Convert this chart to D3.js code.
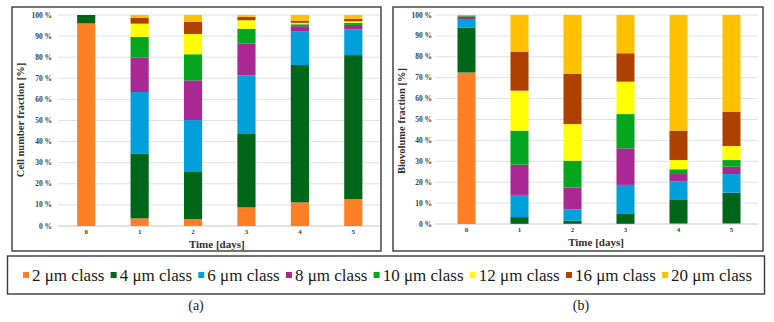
<!DOCTYPE html>
<html>
<head>
<meta charset="utf-8">
<script src="https://cdn.jsdelivr.net/npm/d3@7"></script>
<style>
  body { margin: 0; background: #fff; }
  svg { display: block; }
  text { font-family: "Liberation Serif", "DejaVu Serif", serif; }
</style>
</head>
<body>
<svg id="chart" width="774" height="322"></svg>
<script>
const days = ["0", "1", "2", "3", "4", "5"];
const classes = ["2 μm class", "4 μm class", "6 μm class", "8 μm class",
                 "10 μm class", "12 μm class", "16 μm class", "20 μm class"];
const colors = ["#FF7F27", "#00661A", "#00A0DA", "#AA2894",
                "#05A61F", "#FFFF00", "#AF4100", "#FFC000"];
const yTicks = [0, 10, 20, 30, 40, 50, 60, 70, 80, 90, 100];

// cell number fraction [%], one row per class, one value per day
const cellNumber = [
    [96.0, 3.6, 3.2, 8.8, 11.2, 12.8],
    [4.0, 30.8, 22.4, 34.8, 65.1, 68.2],
    [0, 29.1, 24.6, 27.8, 15.8, 12.2],
    [0, 16.4, 18.8, 15.0, 2.6, 2.1],
    [0, 9.7, 12.4, 7.1, 0.9, 1.0],
    [0, 6.3, 9.6, 4.0, 0.7, 0.7],
    [0, 2.7, 5.7, 1.6, 1.0, 1.2],
    [0, 1.4, 3.3, 0.9, 2.7, 1.8]
];

// biovolume fraction [%]
const biovolume = [
    [72.5, 0.1, 0.1, 0.1, 0.3, 0.4],
    [21.4, 3.2, 1.5, 5.0, 11.2, 14.6],
    [4.2, 10.6, 5.4, 13.6, 8.8, 8.9],
    [1.1, 14.5, 10.4, 17.5, 3.6, 3.5],
    [0.5, 16.3, 12.9, 16.4, 2.3, 3.2],
    [0.1, 19.1, 17.5, 15.5, 4.4, 6.7],
    [0.1, 18.7, 24.0, 13.6, 14.1, 16.3],
    [0.1, 17.5, 28.2, 18.3, 55.3, 46.4]
];

const svg = d3.select("#chart");

function toRows(matrix) {
    return days.map((day, i) => {
        const row = {day: day};
        classes.forEach((c, k) => row[c] = matrix[k][i]);
        return row;
    });
}

function drawPanel(cfg) {
    const g = svg.append("g");

    // frame
    g.append("rect")
        .attr("x", cfg.box[0]).attr("y", cfg.box[1])
        .attr("width", cfg.box[2] - cfg.box[0]).attr("height", cfg.box[3] - cfg.box[1])
        .attr("fill", "none").attr("stroke", "#3a3a3a").attr("stroke-width", 1.4);

    const x = d3.scaleBand().domain(days)
        .range([cfg.x0, cfg.x1])
        .paddingInner(0.66).paddingOuter(0.33);
    const y = d3.scaleLinear().domain([0, 100]).range([cfg.yBottom, cfg.yTop]);

    // gridlines
    g.selectAll(".grid").data(yTicks).enter().append("line")
        .attr("x1", cfg.gridX0).attr("x2", cfg.x1)
        .attr("y1", d => y(d)).attr("y2", d => y(d))
        .attr("stroke", d => d === 0 ? "#c8c8c8" : "#e0e0e0")
        .attr("stroke-width", 1);

    g.selectAll(".ytick").data(yTicks).enter().append("text")
        .attr("x", cfg.gridX0 - cfg.labelGap)
        .attr("y", d => y(d) + 2.5)
        .attr("text-anchor", "end")
        .attr("font-size", 7.5).attr("font-weight", "bold").attr("fill", "#404040")
        .text(d => d + " %");

    const stack = d3.stack().keys(classes)(toRows(cfg.data));
    g.selectAll(".layer").data(stack).enter().append("g")
        .attr("fill", (d, i) => colors[i])
        .selectAll("rect").data(d => d).enter().append("rect")
        .attr("x", d => x(d.data.day))
        .attr("width", x.bandwidth())
        .attr("y", d => y(d[1]))
        .attr("height", d => Math.max(0, y(d[0]) - y(d[1])));

    g.selectAll(".xtick").data(days).enter().append("text")
        .attr("x", d => x(d) + x.bandwidth() / 2)
        .attr("y", cfg.yBottom + 8)
        .attr("text-anchor", "middle")
        .attr("font-size", 7).attr("font-weight", "bold").attr("fill", "#404040")
        .text(d => d);

    g.append("text")
        .attr("x", (cfg.x0 + cfg.x1) / 2 - 3)
        .attr("y", cfg.yBottom + 22)
        .attr("text-anchor", "middle")
        .attr("font-size", 11).attr("font-weight", "bold").attr("fill", "#303030")
        .text("Time [days]");

    g.append("text")
        .attr("transform", `translate(${cfg.titleX},${cfg.titleY}) rotate(-90)`)
        .attr("text-anchor", "middle")
        .attr("font-size", 10.5).attr("font-weight", "bold").attr("fill", "#303030")
        .text(cfg.title);
}

drawPanel({
    data: cellNumber, title: "Cell number fraction [%]",
    box: [12, 7, 381, 251], x0: 59.5, x1: 380, gridX0: 58, labelGap: 6,
    yTop: 15, yBottom: 226, titleX: 24, titleY: 120
});

drawPanel({
    data: biovolume, title: "Biovolume fraction [%]",
    box: [393, 7, 763, 251], x0: 440, x1: 758, gridX0: 435, labelGap: 3,
    yTop: 15, yBottom: 224, titleX: 405, titleY: 121
});

// legend
svg.append("rect")
    .attr("x", 7.5).attr("y", 256).attr("width", 757).attr("height", 38)
    .attr("fill", "none").attr("stroke", "#3a3a3a").attr("stroke-width", 1.4);

const legend = svg.append("g");
const items = legend.selectAll(".item").data(classes).enter().append("g");
items.append("rect")
    .attr("width", 6).attr("height", 6).attr("y", 272)
    .attr("fill", (d, i) => colors[i]);
items.append("text")
    .attr("x", 9).attr("y", 281)
    .attr("font-size", 17).attr("fill", "#1a1a1a")
    .text(d => d);

// spread items between 23 and 752
const widths = [];
items.select("text").each(function () { widths.push(this.getComputedTextLength() + 9); });
const gap = (752 - 23 - d3.sum(widths)) / (classes.length - 1);
let pos = 23;
items.each(function (d, i) {
    d3.select(this).attr("transform", `translate(${pos},0)`);
    pos += widths[i] + gap;
});

svg.append("text").attr("x", 196).attr("y", 310).attr("text-anchor", "middle")
    .attr("font-size", 14).attr("fill", "#1a1a1a").text("(a)");
svg.append("text").attr("x", 581).attr("y", 310).attr("text-anchor", "middle")
    .attr("font-size", 14).attr("fill", "#1a1a1a").text("(b)");
</script>
</body>
</html>
